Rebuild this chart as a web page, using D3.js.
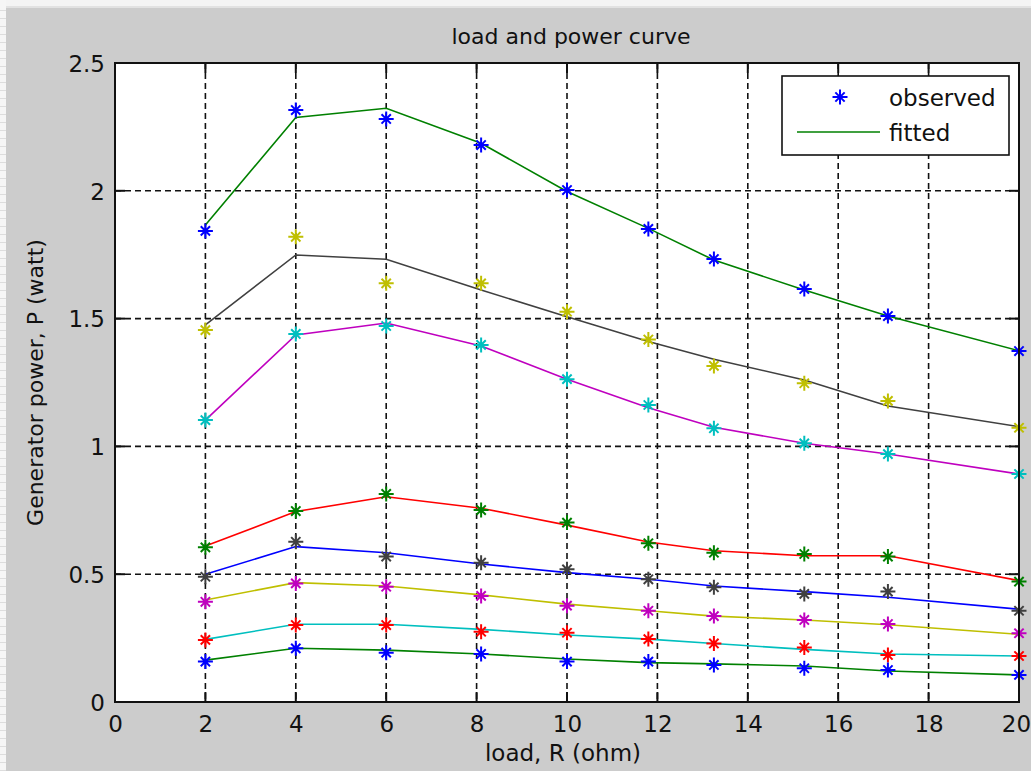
<!DOCTYPE html>
<html>
<head>
<meta charset="utf-8">
<script src="https://cdn.jsdelivr.net/npm/d3@7"></script>
<style>
  html, body { margin: 0; padding: 0; background: #cccccc; }
  svg { display: block; }
  text { font-family: "DejaVu Sans", "Liberation Sans", sans-serif; fill: #111; }
</style>
</head>
<body>
<svg id="fig" width="1031" height="771"></svg>
<script>
// Load resistances (ohm) at which power was measured
const loadR = [2, 4, 6, 8.1, 10, 11.8, 13.25, 15.25, 17.1, 20];

// Measured generator power (watt), one array per run
const observed1 = [1.843, 2.316, 2.281, 2.179, 2.003, 1.851, 1.733, 1.616, 1.510, 1.373];
const observed2 = [1.455, 1.820, 1.638, 1.638, 1.527, 1.418, 1.315, 1.247, 1.178, 1.073];
const observed3 = [1.103, 1.440, 1.471, 1.397, 1.263, 1.162, 1.071, 1.012, 0.970, 0.892];
const observed4 = [0.605, 0.747, 0.814, 0.751, 0.702, 0.621, 0.584, 0.579, 0.569, 0.471];
const observed5 = [0.490, 0.627, 0.569, 0.545, 0.519, 0.480, 0.449, 0.423, 0.432, 0.357];
const observed6 = [0.392, 0.464, 0.451, 0.415, 0.377, 0.357, 0.336, 0.321, 0.305, 0.269];
const observed7 = [0.243, 0.301, 0.301, 0.275, 0.271, 0.246, 0.229, 0.213, 0.184, 0.180];
const observed8 = [0.158, 0.210, 0.193, 0.188, 0.158, 0.158, 0.145, 0.132, 0.125, 0.106];

// Fitted power curves (watt) at the same loads
const fitted1 = [1.866, 2.287, 2.323, 2.186, 1.997, 1.853, 1.729, 1.612, 1.510, 1.374];
const fitted2 = [1.475, 1.749, 1.732, 1.612, 1.507, 1.410, 1.341, 1.260, 1.158, 1.077];
const fitted3 = [1.103, 1.436, 1.483, 1.393, 1.263, 1.151, 1.075, 1.012, 0.970, 0.892];
const fitted4 = [0.610, 0.745, 0.803, 0.758, 0.692, 0.626, 0.592, 0.572, 0.572, 0.475];
const fitted5 = [0.500, 0.608, 0.584, 0.540, 0.506, 0.480, 0.454, 0.432, 0.410, 0.363];
const fitted6 = [0.399, 0.467, 0.454, 0.419, 0.383, 0.357, 0.336, 0.321, 0.302, 0.265];
const fitted7 = [0.245, 0.304, 0.304, 0.284, 0.262, 0.246, 0.229, 0.206, 0.188, 0.180];
const fitted8 = [0.164, 0.210, 0.203, 0.188, 0.168, 0.154, 0.149, 0.141, 0.121, 0.106];

// Marker and line colours follow the default colour cycles
const observedColors = ["#0000ff", "#bfbf00", "#00bfbf", "#008000", "#404040", "#bf00bf", "#ff0000", "#0000ff"];
const fittedColors   = ["#008000", "#404040", "#bf00bf", "#ff0000", "#0000ff", "#bfbf00", "#00bfbf", "#008000"];

const xTicks = [0, 2, 4, 6, 8, 10, 12, 14, 16, 18, 20];
const yTicks = [0, 0.5, 1, 1.5, 2, 2.5];
const yTickLabels = ["0", "0.5", "1", "1.5", "2", "2.5"];

const titleText = "load and power curve";
const xLabelText = "load, R (ohm)";
const yLabelText = "Generator power, P (watt)";
const legendLabels = ["observed", "fitted"];

const observedSets = [observed1, observed2, observed3, observed4, observed5, observed6, observed7, observed8];
const fittedSets = [fitted1, fitted2, fitted3, fitted4, fitted5, fitted6, fitted7, fitted8];

const svg = d3.select("#fig");
const W = 1031, H = 771;
const plot = { left: 115, right: 1019, top: 63, bottom: 702 };

// window frame: white strip on top, striped strip at left
svg.append("rect").attr("x", 0).attr("y", 0).attr("width", W).attr("height", H).attr("fill", "#cccccc");
svg.append("rect").attr("x", 0).attr("y", 0).attr("width", W).attr("height", 6).attr("fill", "#f4f4f4");
svg.append("rect").attr("x", 0).attr("y", 6).attr("width", W).attr("height", 2).attr("fill", "#e2e2e2");
svg.append("rect").attr("x", 0).attr("y", 0).attr("width", 6).attr("height", H).attr("fill", "#f6f6f6");
svg.append("g").selectAll("line")
  .data(d3.range(10, H, 8))
  .join("line")
  .attr("x1", 0).attr("x2", 6)
  .attr("y1", d => d + 0.5).attr("y2", d => d + 0.5)
  .attr("stroke", "#dddddd").attr("stroke-width", 1);

const x = d3.scaleLinear().domain([0, 20]).range([plot.left, plot.right]);
const y = d3.scaleLinear().domain([0, 2.5]).range([plot.bottom, plot.top]);

// plot background
svg.append("rect")
  .attr("x", plot.left).attr("y", plot.top)
  .attr("width", plot.right - plot.left).attr("height", plot.bottom - plot.top)
  .attr("fill", "#ffffff");

// dashed grid
const grid = svg.append("g").attr("stroke", "#111").attr("stroke-width", 1.6).attr("stroke-dasharray", "6,4");
grid.selectAll("line.vx")
  .data(xTicks.filter(t => t > 0 && t < 20))
  .join("line").attr("class", "vx")
  .attr("x1", d => x(d)).attr("x2", d => x(d))
  .attr("y1", plot.top).attr("y2", plot.bottom);
grid.selectAll("line.hy")
  .data(yTicks.filter(t => t > 0 && t < 2.5))
  .join("line").attr("class", "hy")
  .attr("x1", plot.left).attr("x2", plot.right)
  .attr("y1", d => y(d)).attr("y2", d => y(d));

// fitted curves
const line = d3.line().x(d => x(d[0])).y(d => y(d[1]));
svg.append("g").selectAll("path")
  .data(fittedSets)
  .join("path")
  .attr("d", vals => line(vals.map((v, i) => [loadR[i], v])))
  .attr("fill", "none")
  .attr("stroke", (d, i) => fittedColors[i])
  .attr("stroke-width", 1.6);

// star markers
function starPath(s) {
  const d = s * 0.62;
  return `M0,${-s}L0,${s}M${-s},0L${s},0M${-d},${-d}L${d},${d}M${-d},${d}L${d},${-d}`;
}
const markers = svg.append("g");
observedSets.forEach((vals, si) => {
  markers.append("g").selectAll("path")
    .data(vals)
    .join("path")
    .attr("transform", (v, i) => `translate(${x(loadR[i])},${y(v)})`)
    .attr("d", starPath(7.5))
    .attr("fill", "none")
    .attr("stroke", observedColors[si])
    .attr("stroke-width", 2);
});

// axes with inward ticks on all four sides
const tickLen = 10;
const axisBottom = d3.axisBottom(x).tickValues(xTicks).tickSize(0).tickPadding(0).tickFormat(d3.format("d"));
const axisLeft = d3.axisLeft(y).tickValues(yTicks).tickSize(0).tickPadding(0).tickFormat((d, i) => yTickLabels[i]);

const gx = svg.append("g").attr("transform", `translate(0,${plot.bottom})`).call(axisBottom);
gx.select(".domain").remove();
gx.selectAll("text")
  .attr("y", 30).attr("dy", 0)
  .attr("x", d => d === 20 ? -3 : 0)
  .style("font-size", "23px").style("font-family", "DejaVu Sans, sans-serif").attr("fill", "#111");

const gy = svg.append("g").attr("transform", `translate(${plot.left},0)`).call(axisLeft);
gy.select(".domain").remove();
gy.selectAll("text")
  .attr("x", -10).attr("dy", "0.36em")
  .style("font-size", "23px").style("font-family", "DejaVu Sans, sans-serif").attr("fill", "#111");

const ticks = svg.append("g").attr("stroke", "#111").attr("stroke-width", 2);
xTicks.forEach(t => {
  ticks.append("line").attr("x1", x(t)).attr("x2", x(t)).attr("y1", plot.bottom).attr("y2", plot.bottom - tickLen);
  ticks.append("line").attr("x1", x(t)).attr("x2", x(t)).attr("y1", plot.top).attr("y2", plot.top + tickLen);
});
yTicks.forEach(t => {
  ticks.append("line").attr("x1", plot.left).attr("x2", plot.left + tickLen).attr("y1", y(t)).attr("y2", y(t));
  ticks.append("line").attr("x1", plot.right).attr("x2", plot.right - tickLen).attr("y1", y(t)).attr("y2", y(t));
});

// axes box
svg.append("rect")
  .attr("x", plot.left).attr("y", plot.top)
  .attr("width", plot.right - plot.left).attr("height", plot.bottom - plot.top)
  .attr("fill", "none").attr("stroke", "#111").attr("stroke-width", 2);

// titles
svg.append("text")
  .attr("x", (plot.left + plot.right) / 2 + 4).attr("y", 44)
  .attr("text-anchor", "middle").style("font-size", "22px")
  .text(titleText);
svg.append("text")
  .attr("x", (plot.left + plot.right) / 2 - 4).attr("y", 761)
  .attr("text-anchor", "middle").style("font-size", "23px")
  .text(xLabelText);
svg.append("text")
  .attr("transform", `translate(43,${(plot.top + plot.bottom) / 2}) rotate(-90)`)
  .attr("text-anchor", "middle").style("font-size", "22px")
  .text(yLabelText);

// legend
const lg = svg.append("g");
lg.append("rect")
  .attr("x", 782).attr("y", 76).attr("width", 227).attr("height", 79)
  .attr("fill", "#ffffff").attr("stroke", "#111").attr("stroke-width", 1.6);
lg.append("path")
  .attr("transform", "translate(840,97)")
  .attr("d", starPath(7.5))
  .attr("fill", "none").attr("stroke", observedColors[0]).attr("stroke-width", 2);
lg.append("line")
  .attr("x1", 797).attr("x2", 880).attr("y1", 132).attr("y2", 132)
  .attr("stroke", fittedColors[0]).attr("stroke-width", 1.6);
lg.append("text").attr("x", 889).attr("y", 106).style("font-size", "23px").text(legendLabels[0]);
lg.append("text").attr("x", 889).attr("y", 141).style("font-size", "23px").text(legendLabels[1]);
</script>
</body>
</html>
